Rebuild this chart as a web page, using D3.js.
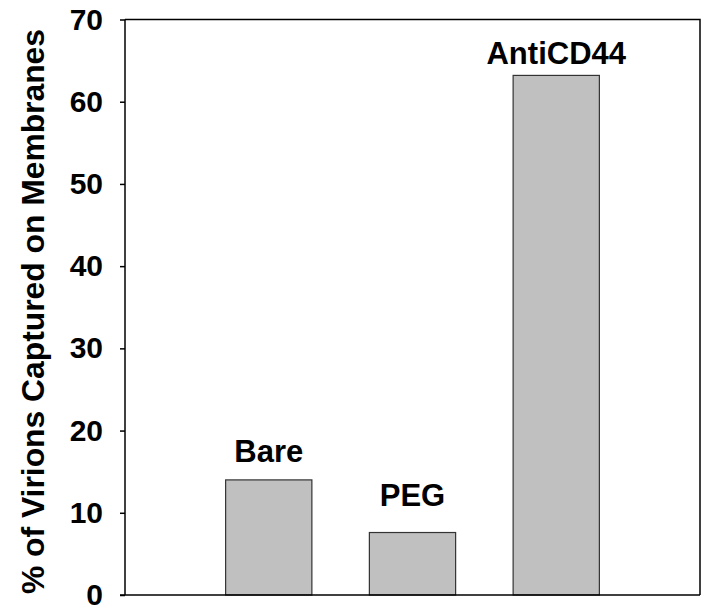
<!DOCTYPE html>
<html><head><meta charset="utf-8">
<script src="https://cdn.jsdelivr.net/npm/d3@7"></script>
<style>body{margin:0;background:#fff}svg{display:block}text{font-family:Arial,"Liberation Sans",sans-serif;font-weight:bold}</style>
</head><body>
<script>
const categories = ["Bare", "PEG", "AntiCD44"];
const values = [14.0, 7.6, 63.2];
const labelAt = [16.2, 10.8, 64.6];
const yTicks = [0, 10, 20, 30, 40, 50, 60, 70];
const yTitle = "% of Virions Captured on Membranes";

(function () {
const W = 702, H = 613;
const mL = 125, mR = 700, mT = 19.5, mB = 595;
const svg = d3.select("body").append("svg").attr("width", W).attr("height", H);

const x = d3.scaleLinear().domain([0, categories.length + 1]).range([mL, mR]);
const y = d3.scaleLinear().domain([0, 70]).range([mB, mT]);
const step = x(1) - x(0);
const bw = step * 0.6;

svg.append("path").attr("d", `M${mL},${mT}H${mR}V${mB}`)
  .attr("fill", "none").attr("stroke", "#000").attr("stroke-width", 1.5);

svg.selectAll("rect.bar").data(values).join("rect").attr("class", "bar")
  .attr("x", (d, i) => x(i + 1) - bw / 2)
  .attr("y", d => y(d))
  .attr("width", bw)
  .attr("height", d => y(0) - y(d))
  .attr("fill", "#c0c0c0").attr("stroke", "#333").attr("stroke-width", 1.2);

svg.selectAll("text.lab").data(categories).join("text").attr("class", "lab")
  .attr("x", (d, i) => x(i + 1))
  .attr("y", (d, i) => y(labelAt[i]))
  .attr("text-anchor", "middle").attr("font-size", 31).text(d => d);

const yAxis = svg.append("g").attr("transform", `translate(${mL},0)`)
  .call(d3.axisLeft(y).tickValues(yTicks).tickSize(5).tickPadding(17).tickFormat(d3.format("d")));
yAxis.select(".domain").attr("stroke", "#000").attr("stroke-width", 1.5).attr("d", `M0,${mB}V${mT}`);
yAxis.selectAll(".tick line").attr("stroke", "#000").attr("stroke-width", 1.5);
yAxis.selectAll(".tick text").attr("font-size", 30).attr("font-family", "Arial, 'Liberation Sans', sans-serif").attr("font-weight", "bold").attr("fill", "#000");

svg.append("line").attr("x1", mL - 5).attr("x2", mR).attr("y1", mB).attr("y2", mB)
  .attr("stroke", "#000").attr("stroke-width", 1.5);

svg.append("text").attr("transform", `translate(44,${(29 + 594) / 2}) rotate(-90)`)
  .attr("text-anchor", "middle").attr("font-size", 31)
  .attr("textLength", 565).attr("lengthAdjust", "spacingAndGlyphs").text(yTitle);
})();
</script>
</body></html>
